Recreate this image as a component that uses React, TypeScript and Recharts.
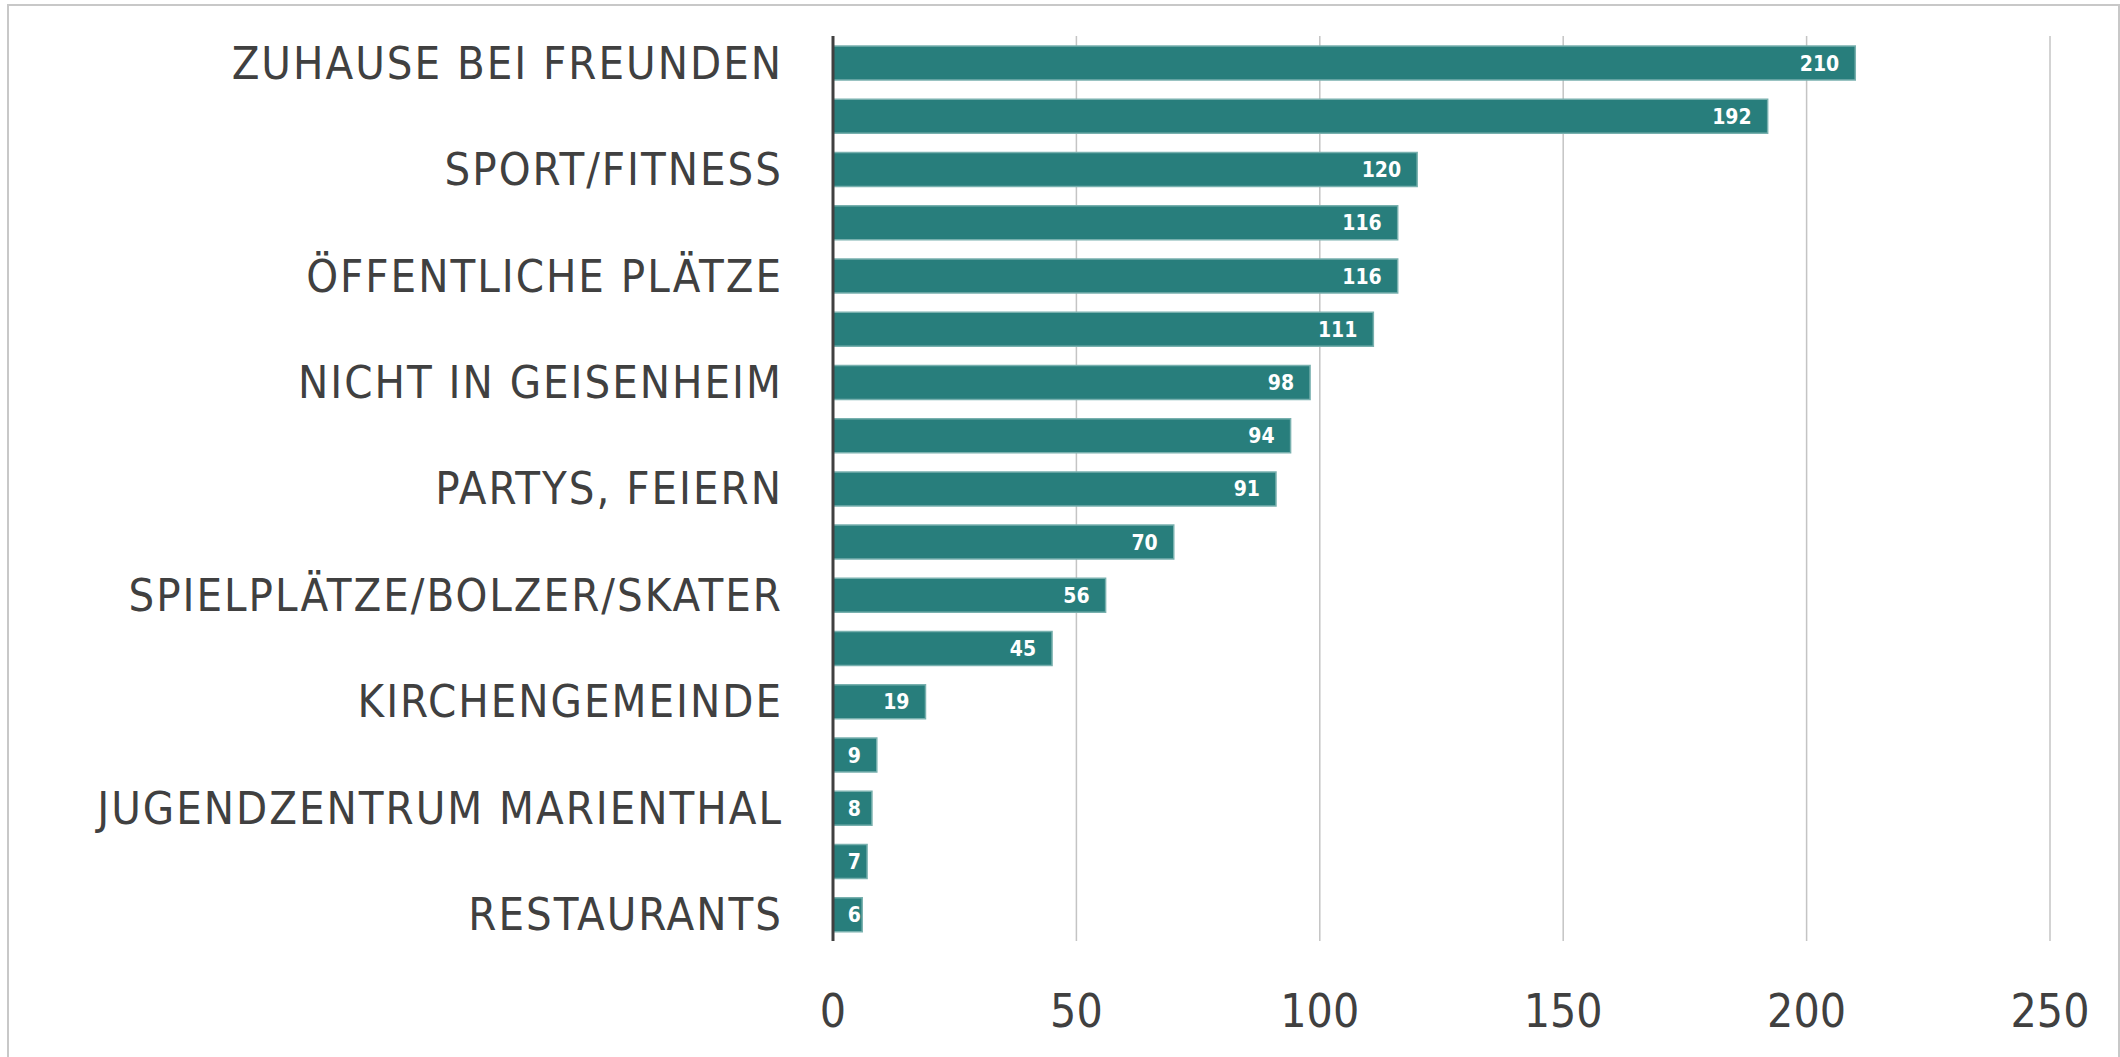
import React from 'react'
import { BarChart, Bar, XAxis, YAxis, CartesianGrid, LabelList } from 'recharts'

// Excel only prints every other category name; the skipped ones stay blank
const categories = [
  'ZUHAUSE BEI FREUNDEN',
  '',
  'SPORT/FITNESS',
  '',
  'ÖFFENTLICHE PLÄTZE',
  '',
  'NICHT IN GEISENHEIM',
  '',
  'PARTYS, FEIERN',
  '',
  'SPIELPLÄTZE/BOLZER/SKATER',
  '',
  'KIRCHENGEMEINDE',
  '',
  'JUGENDZENTRUM MARIENTHAL',
  '',
  'RESTAURANTS',
]
const counts = [210, 192, 120, 116, 116, 111, 98, 94, 91, 70, 56, 45, 19, 9, 8, 7, 6]
const xTicks = [0, 50, 100, 150, 200, 250]

const data = categories.map((name, i) => ({ id: i, name, value: counts[i] }))

const font = "'DejaVu Sans Condensed', 'DejaVu Sans', sans-serif"
const textColor = '#404040'
const barColor = '#287e7c'

// inside-end label, pushed right when the bar is too short to hold it
function ValueLabel(props: any) {
  const { x, y, width, height, value } = props
  const textW = String(value).length * 13
  const right = Math.max(x + width - 16, x + 15 + textW)
  return (
    <text
      x={right}
      y={y + height / 2}
      dy="0.36em"
      textAnchor="end"
      fill="#ffffff"
      fontFamily={font}
      fontStretch="condensed"
      fontWeight="bold"
      fontSize={21}
    >
      {value}
    </text>
  )
}

export default function App() {
  return (
    <div style={{ position: 'absolute', left: 0, top: 0, width: 2120, height: 1057, overflow: 'hidden', background: '#fff' }}>
      <div
        style={{
          position: 'absolute',
          left: 7,
          top: 4,
          width: 2109,
          height: 1100,
          border: '2px solid #c8c8c8',
        }}
      />
      <div style={{ position: 'absolute', left: 0, top: 0 }}>
        <BarChart
          width={2120}
          height={1057}
          data={data}
          layout="vertical"
          margin={{ top: 36, right: 70, bottom: 0, left: 0 }}
          barSize={34}
        >
          <CartesianGrid horizontal={false} stroke="#c4c4c4" strokeWidth={1.5} />
          <XAxis
            type="number"
            domain={[0, 250]}
            ticks={xTicks}
            axisLine={false}
            tickLine={false}
            tickSize={0}
            tickMargin={53}
            height={116}
            tick={{ fill: textColor, fontSize: 46, fontFamily: font, fontStretch: 'condensed' }}
          />
          <YAxis
            type="category"
            dataKey="name"
            width={833}
            interval={0}
            axisLine={{ stroke: textColor, strokeWidth: 3 }}
            tickLine={false}
            tickSize={0}
            tickMargin={50}
            tick={{ fill: textColor, fontSize: 45, fontFamily: font, fontStretch: 'condensed', letterSpacing: 2 }}
          />
          <Bar
            dataKey="value"
            fill={barColor}
            stroke="#78b0ae"
            strokeWidth={1.5}
            isAnimationActive={false}
          >
            <LabelList dataKey="value" content={ValueLabel} />
          </Bar>
        </BarChart>
      </div>
    </div>
  )
}
